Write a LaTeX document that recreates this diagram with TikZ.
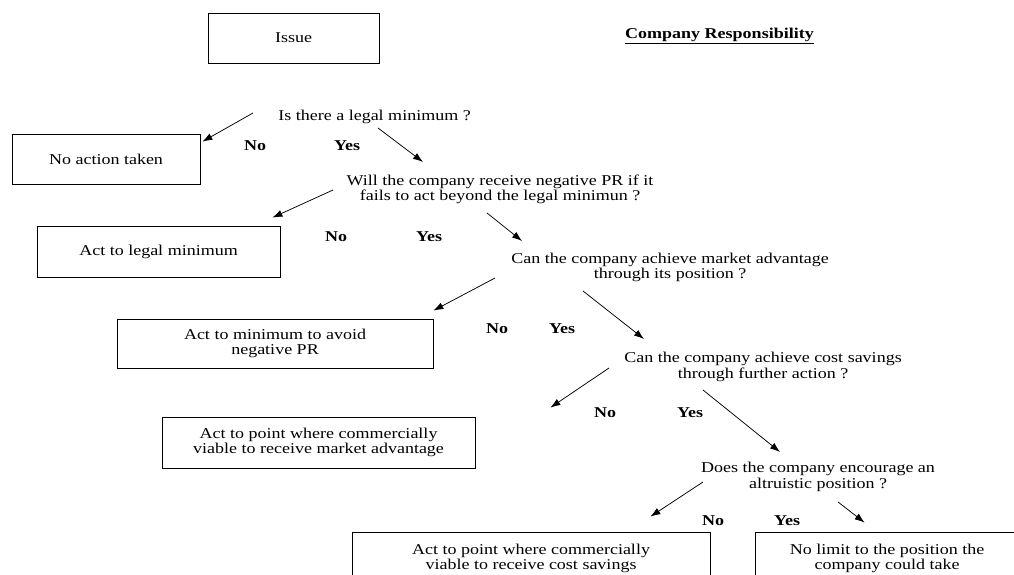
\documentclass[tikz,border=0pt]{standalone}
\usepackage{fontspec}
\setmainfont{Liberation Serif}[FakeStretch=1.2]
\usetikzlibrary{arrows.meta}
\begin{document}
\begin{tikzpicture}[x=1pt,y=-1pt,
    every node/.style={font=\fontsize{15}{15.5}\selectfont, align=center, inner sep=0pt},
    box/.style={draw, line width=0.8pt},
    yn/.style={font=\fontsize{15}{15.5}\selectfont\bfseries},
    arr/.style={-{Latex[length=10pt,width=7pt]}, line width=0.75pt}]
  \useasboundingbox (0,0) rectangle (1014,575);
  % heading
  \node[box, minimum width=171, minimum height=50] (issue) at (293.5,38) {Issue};
  \node[yn] (title) at (719.5,36) {\underline{Company Responsibility}};
  % questions
  \node (q1) at (374.5,117) {Is there a legal minimum ?};
  \node (q2) at (500,189.5) {Will the company receive negative PR if it\\ fails to act beyond the legal minimun ?};
  \node (q3) at (670,267.5) {Can the company achieve market advantage\\ through its position ?};
  \node (q4) at (763,367) {Can the company achieve cost savings\\ through further action ?};
  \node (q5) at (818,477) {Does the company encourage an\\ altruistic position ?};
  % outcomes
  \node[box, minimum width=188, minimum height=50] (noact) at (106,159) {No action taken};
  \node[box, minimum width=243, minimum height=51] (legal) at (158.5,251.5) {Act to legal minimum};
  \node[box, minimum width=316, minimum height=49] (avoid) at (275,343.5) {Act to minimum to avoid\\ negative PR};
  \node[box, minimum width=313, minimum height=51] (market) at (318.5,442.5) {Act to point where commercially\\ viable to receive market advantage};
  \node[box, minimum width=358, minimum height=53] (cost) at (531,558.5) {Act to point where commercially\\ viable to receive cost savings};
  \node[box, minimum width=264, minimum height=53] (limit) at (887,558.5) {No limit to the position the\\ company could take};
  % answers
  \foreach \n/\x/\y in {1/255/146, 2/336/237, 3/497/329, 4/605/413, 5/713/521}
    \node[yn] (no\n) at (\x,\y) {No};
  \foreach \n/\x/\y in {1/347/146, 2/429/237, 3/562/329, 4/690/413, 5/787/521}
    \node[yn] (yes\n) at (\x,\y) {Yes};
  % connectors
  \draw[arr] ([shift={(-121.5,-4)}]q1.center) -- ([shift={(2,8)}]noact.north east);
  \draw[arr] ([shift={(3.5,11)}]q1.center) -- ([shift={(-77,-27.5)}]q2.center);
  \draw[arr] ([shift={(-167,0.5)}]q2.center) -- ([shift={(-8,-8)}]legal.north east);
  \draw[arr] ([shift={(-13,23.5)}]q2.center) -- ([shift={(-148,-26.5)}]q3.center);
  \draw[arr] ([shift={(-175,10.5)}]q3.center) -- ([shift={(0,-8)}]avoid.north east);
  \draw[arr] ([shift={(-87,23.5)}]q3.center) -- ([shift={(-119,-28)}]q4.center);
  \draw[arr] ([shift={(-154,1)}]q4.center) -- ([shift={(75,-9)}]market.north east);
  \draw[arr] ([shift={(-60,23)}]q4.center) -- ([shift={(-38,-25)}]q5.center);
  \draw[arr] ([shift={(-115,5)}]q5.center) -- ([shift={(-60,-15)}]cost.north east);
  \draw[arr] ([shift={(20,25)}]q5.center) -- ([shift={(110,-9)}]limit.north west);
\end{tikzpicture}
\end{document}
